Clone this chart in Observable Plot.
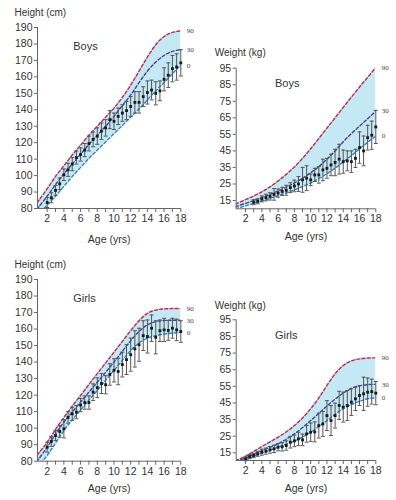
<!DOCTYPE html>
<html><head><meta charset="utf-8">
<script src="https://cdn.jsdelivr.net/npm/d3@7"></script>
<script src="https://cdn.jsdelivr.net/npm/@observablehq/plot@0.6"></script>
<style>
body{margin:0;background:#fff;}
#root{position:relative;width:396px;height:500px;font-family:"Liberation Sans",Arial,sans-serif;}
#root svg{position:absolute;overflow:visible;}
</style></head><body><div id="root"></div>
<script>
// ---- reference curves (ages) ----
const curveAges = [0.8,1,2,3,4,5,6,7,8,9,10,11,12,13,14,15,16,17,18];
const endLabels = ["90","30","0"];

// Boys height
const boysHeight90 = [83.5,85,92,99.5,106,112.5,118.5,124.5,130,135.5,141,147.5,155,163.5,172,179.5,184.5,187,188];
const boysHeight30 = [79.5,81,87.5,94.5,101,107,113,119,124.5,130,136,142.5,149,156.5,163.5,169,173,175.5,176.5];
const boysHeight0  = [75.5,77,82,87.5,93.5,99.5,105,110.5,115.5,120.5,125.5,130.5,135.5,140.5,146,151.5,156.5,162,167];
// Boys weight
const boysWeight90 = [13,13.3,15.5,17.8,20.3,23.3,26.8,30.8,35.3,40.5,46.3,52.5,58.8,65,71.3,77.5,83.6,89.5,95.5];
const boysWeight30 = [11.3,11.6,13.3,15,16.8,18.7,20.8,23.1,25.6,28.5,31.8,35.5,40,45,50.5,55.5,60,64.5,69];
const boysWeight0  = [10,10.3,11.8,13.3,14.8,16.3,17.9,19.6,21.4,23.4,25.6,28.2,31.2,34.6,38.3,42.2,46.2,50.2,54];
// Girls height
const girlsHeight90 = [84,85,91.5,99.3,106.5,113.3,119.8,126.5,133,139.5,146,152.5,159,165,169.5,171.5,172.2,172.4,172.4];
const girlsHeight30 = [79.8,81.5,88.5,96.5,103.6,109.8,115.8,121.8,127.8,133.8,140,146.5,153,158.5,162.5,164.5,165.2,165.3,165.3];
const girlsHeight0  = [76.5,77.5,83.5,91,98.6,105,111,117,122.8,129,135,141,147,151.5,154.5,156,157,157.5,158];
// Girls weight
const girlsWeight90 = [10.3,10.8,13,15.8,18.8,21.6,24.4,27.6,31.4,36,41.5,48,55.5,62.5,67.5,70.3,71.5,72,72.1];
const girlsWeight30 = [10.2,10.5,11.8,14,16.4,18.4,20.4,23.2,26.4,30.2,34.4,38.8,43.2,47.3,50.9,53.8,55.3,56,56.2];
const girlsWeight0  = [9.6,9.9,10.8,12.8,14.8,16.6,18.4,20.2,22,24.5,27.4,30.8,34.4,38.2,41.5,44,46,47.5,48];

// ---- observed data (mean ± SD) ----
const agesFrom2 = [2,2.5,3,3.5,4,4.5,5,5.5,6,6.5,7,7.5,8,8.5,9,9.5,10,10.5,11,11.5,12,12.5,13,13.5,14,14.5,15,15.5,16,16.5,17,17.5,18];
const agesFrom3 = [3,3.5,4,4.5,5,5.5,6,6.5,7,7.5,8,8.5,9,9.5,10,10.5,11,11.5,12,12.5,13,13.5,14,14.5,15,15.5,16,16.5,17,17.5,18];

const boysHeightMean = [83.6,86.5,91,95,100.5,103.5,107,111,112.8,115.5,119.5,122,124,127,129,134,133,136,138,139.5,142,144.5,144.5,148,150.5,152,150,151.5,158.5,161,165,166,168.5];
const boysHeightSD   = [3,3,3,3.5,3.5,4,4,4,4,4,4.5,4.5,5,5,5,5.5,5,5,5,5.5,6,6.5,6.5,6,7,6,7,6,7,7.5,8,8,8];
const boysWeightMean = [14,14.5,16,16.8,17.5,18.7,19.5,20.5,21.2,22.8,23.8,25,27.5,28.5,27.5,30.5,30.5,33.5,34.5,36.5,38,40,38.5,39,38.5,40.5,47,45,53,54.5,59.5];
const boysWeightSD   = [1.5,1.5,1.8,2,2.2,3.5,2.5,2.5,3,3,3.5,4.5,7.5,7.5,3.5,4,5,6.5,6,6.5,8,9,7,6,6.5,5.5,9.5,9,7.5,8.5,10];
const girlsHeightMean = [88.5,92,95.5,98,99.6,106.5,108.7,109.7,114,115.5,115.5,121.8,124.5,127,126.3,132.5,135,134.3,138.5,141.5,144.5,148,150.5,156,155.5,160.5,155,159,159.5,159.2,160.5,159.5,158.5];
const girlsHeightSD   = [3,3,3,3.5,5.5,3.5,4,4,4,4,4,5,6,6,5.5,6.5,7,8,7.5,9,10,11,10,9,10,8,10,6.5,7,6,6,6.5,6.5];
const girlsWeightMean = [11.4,12.8,13.4,14.4,15.4,16,16.8,17.4,18.4,18.6,19.4,21.4,22.2,23.4,22.8,26.4,27.4,27.6,31.4,32.4,37.4,34.4,37.4,43.5,42.5,43.5,45.5,47.5,49.5,50.5,51.5,51.8,50.9];
const girlsWeightSD   = [1.2,1.3,1.3,1.5,1.8,1.8,2,2.2,2.2,2.5,2.8,3.5,3.5,4,3.5,5,5.5,6,7.5,7.5,9,9,7.5,8.5,9,9,8,7,6,10,8.5,7.5,7];

// ---- axes ----
const xTicks = [2,3,4,5,6,7,8,9,10,11,12,13,14,15,16,17,18];
const heightTicks = [80,90,100,110,120,130,140,150,160,170,180,190];
const weightTicks = [15,25,35,45,55,65,75,85,95];

const RED = "#c42a47", PURPLE = "#4a3f8e", BLUE = "#2a85c0", BAND = "#c4e8f4";

function panel(c) {
  const curves = curveAges.map((a,i) => ({age:a, hi:c.c90[i], mid:c.c30[i], lo:c.c0[i]}));
  const pts = c.ages.map((a,i) => ({age:a, m:c.mean[i], lo:c.mean[i]-c.sd[i], hi:c.mean[i]+c.sd[i]}));
  const last = curves[curves.length-1];
  const ends = [{age:last.age, v:last.hi, t:endLabels[0]},{age:last.age, v:last.mid, t:endLabels[1]},{age:last.age, v:last.lo, t:endLabels[2]}];
  const dash = {strokeDasharray:"3,2.2", strokeWidth:1.4, curve:"natural", clip:true};
  const svg = Plot.plot({
    width:c.w, height:c.h,
    marginLeft:c.ml, marginRight:c.mr, marginTop:c.mt, marginBottom:c.mb,
    x:{domain:c.xd}, y:{domain:c.yd},
    style:{fontFamily:'"Liberation Sans",Arial,sans-serif', fontSize:"10.5px", color:"#333", background:"transparent"},
    marks:[
      Plot.areaY(curves,{x:"age", y1:"lo", y2:"hi", fill:BAND, curve:"natural", clip:true}),
      Plot.lineY(curves,{x:"age", y:"hi", stroke:RED, ...dash}),
      Plot.lineY(curves,{x:"age", y:"mid", stroke:PURPLE, ...dash}),
      Plot.lineY(curves,{x:"age", y:"lo", stroke:BLUE, ...dash}),
      Plot.ruleX(pts,{x:"age", y1:"lo", y2:"hi", stroke:"#555", strokeWidth:1}),
      Plot.link(pts,{x1:d=>d.age-0.24, x2:d=>d.age+0.24, y1:"hi", y2:"hi", stroke:"#555"}),
      Plot.link(pts,{x1:d=>d.age-0.24, x2:d=>d.age+0.24, y1:"lo", y2:"lo", stroke:"#555"}),
      Plot.dot(pts,{x:"age", y:"m", symbol:"square", r:1.6, fill:"#1a1a1a"}),
      Plot.ruleX([c.xd[0]],{stroke:"#666"}),
      Plot.ruleY([c.yd[0]],{stroke:"#666"}),
      Plot.axisX({ticks:xTicks, tickFormat:d => d%2===0 ? String(d) : "", tickSize:4, tickPadding:2, label:null, stroke:"#666"}),
      Plot.axisY({ticks:c.yt, tickSize:3, tickPadding:2, label:null, stroke:"#666"}),
      Plot.text(ends,{x:"age", y:"v", text:"t", dx:6, textAnchor:"start", lineAnchor:"middle", fontSize:7, fontFamily:'"Liberation Serif",serif', fill:"#444"}),
      Plot.text([c.yTitle],{frameAnchor:"top-left", textAnchor:"start", lineAnchor:"middle", dx:c.ytdx, dy:c.ytdy, fontSize:10, fill:"#333"}),
      Plot.text(["Age (yrs)"],{frameAnchor:"bottom", textAnchor:"middle", lineAnchor:"middle", dy:c.xtdy, fontSize:10.5, fill:"#333"}),
      Plot.text([c.group],{frameAnchor:"top-left", textAnchor:"middle", lineAnchor:"middle", dx:c.gdx, dy:c.gdy, fontSize:11, fill:"#333"})
    ]
  });
  svg.style.left = c.left + "px";
  svg.style.top = c.top + "px";
  document.getElementById("root").appendChild(svg);
}

panel({left:0, top:0, w:198, h:250, ml:37, mr:17.7, mt:27, mb:42, xd:[0.84,18], yd:[80,190], yt:heightTicks,
  c90:boysHeight90, c30:boysHeight30, c0:boysHeight0, ages:agesFrom2, mean:boysHeightMean, sd:boysHeightSD,
  yTitle:"Height (cm)", ytdx:-23, ytdy:-15, xtdy:31, group:"Boys", gdx:48, gdy:19});
panel({left:198, top:0, w:198, h:250, ml:37.7, mr:20.7, mt:67.7, mb:41.7, xd:[0.85,18], yd:[10,95], yt:weightTicks,
  c90:boysWeight90, c30:boysWeight30, c0:boysWeight0, ages:agesFrom3, mean:boysWeightMean, sd:boysWeightSD,
  yTitle:"Weight (kg)", ytdx:-21.4, ytdy:-15, xtdy:28, group:"Boys", gdx:51, gdy:15.6});
panel({left:0, top:250, w:198, h:250, ml:37, mr:17.7, mt:29, mb:39.3, xd:[0.84,18], yd:[80,190], yt:heightTicks,
  c90:girlsHeight90, c30:girlsHeight30, c0:girlsHeight0, ages:agesFrom2, mean:girlsHeightMean, sd:girlsHeightSD,
  yTitle:"Height (cm)", ytdx:-23, ytdy:-15, xtdy:27, group:"Girls", gdx:47, gdy:18.7});
panel({left:198, top:250, w:198, h:250, ml:37.7, mr:20.7, mt:69.3, mb:40, xd:[0.85,18], yd:[10.4,95], yt:weightTicks,
  c90:girlsWeight90, c30:girlsWeight30, c0:girlsWeight0, ages:agesFrom2, mean:girlsWeightMean, sd:girlsWeightSD,
  yTitle:"Weight (kg)", ytdx:-21.4, ytdy:-14.3, xtdy:28.3, group:"Girls", gdx:50, gdy:15.7});
</script></body></html>
